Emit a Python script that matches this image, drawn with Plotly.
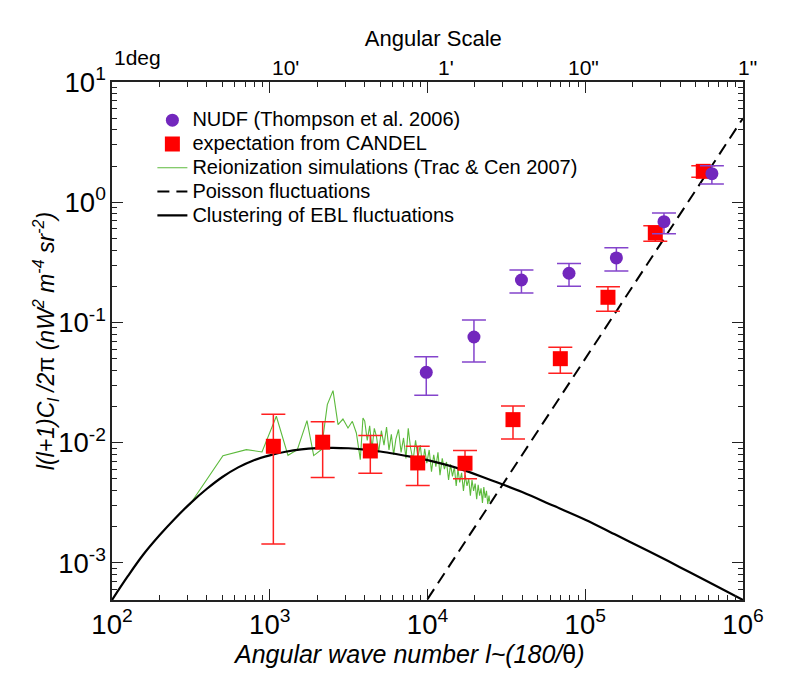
import math
import plotly.graph_objects as go

# ---------------- data ----------------
# NUDF (Thompson et al. 2006)
nudf_l = [9820, 19700, 39400, 78900, 157500, 315500, 635000]
nudf_val = [0.0385, 0.0757, 0.2255, 0.2566, 0.344, 0.689, 1.727]
nudf_hi = [0.052, 0.105, 0.2735, 0.31, 0.419, 0.814, 2.01]
nudf_lo = [0.0248, 0.0469, 0.176, 0.20, 0.268, 0.548, 1.42]

# expectation from CANDEL
candel_l = [1054, 2165, 4340, 8670, 17290, 34830, 69500, 139300, 278000, 560000]
candel_val = [0.00934, 0.0101, 0.00854, 0.00679, 0.00675, 0.01556, 0.050, 0.162, 0.555, 1.807]
candel_hi = [0.01726, 0.01497, 0.01146, 0.00934, 0.0086, 0.0202, 0.0622, 0.1986, 0.638, 2.01]
candel_lo = [0.00144, 0.00513, 0.00557, 0.0044, 0.00502, 0.01074, 0.0378, 0.124, 0.473, 1.61]

# Reionization simulations (Trac & Cen 2007)
reion_l = [311, 505, 711, 893, 1101, 1305, 1496, 1722, 1899, 2123, 2317, 2518, 2709,
           2911, 3133, 3339, 3540, 3750, 3899,
           4000, 4150, 4300, 4450, 4600, 4750, 4900, 5100, 5300, 5500, 5700, 5900,
           6100, 6300, 6550, 6800, 7050, 7300, 7550, 7800, 8100, 8400, 8700, 9000,
           9300, 9600, 9900, 10250, 10600, 10950, 11300, 11650, 12000, 12400, 12800,
           13200, 13600, 14000, 14400, 14800, 15200, 15600, 16000, 16450, 16900,
           17350, 17800, 18250, 18700, 19150, 19600, 20050, 20500, 20950, 21400,
           21850, 22300, 22750, 23200, 23650, 24100, 24550, 24770]
reion_val = [0.00305, 0.00781, 0.00876, 0.00838, 0.0166, 0.00786, 0.00876, 0.01525,
             0.00781, 0.00876, 0.02075, 0.0271, 0.01413, 0.01574, 0.01327, 0.01507,
             0.01205, 0.00723, 0.01607,
             0.01514, 0.01047, 0.01380, 0.00891, 0.01318, 0.01122, 0.00832, 0.01259,
             0.00955, 0.01349, 0.00871, 0.01175, 0.00794, 0.01072, 0.01288, 0.00832,
             0.01096, 0.00741, 0.01318, 0.00912, 0.00708, 0.01047, 0.00759, 0.00955,
             0.00631, 0.00891, 0.00676, 0.00871, 0.00575, 0.00794, 0.00631, 0.00832,
             0.00537, 0.00741, 0.00603, 0.00692, 0.00490, 0.00661, 0.00525, 0.00631,
             0.00437, 0.00603, 0.00468, 0.00562, 0.00398, 0.00537, 0.00437, 0.00501,
             0.00363, 0.00490, 0.00398, 0.00457, 0.00339, 0.00447, 0.00363, 0.00417,
             0.00316, 0.00427, 0.00347, 0.00398, 0.00309, 0.00363, 0.00324]

# Poisson fluctuations
poisson_l = [1e4, 1e6]
poisson_val = [5.0e-4, 5.0]

# Clustering of EBL fluctuations
clust_l = [100, 126, 158, 200, 251, 316, 398, 501, 631, 794, 1000, 1259, 1585, 1995,
           2512, 3162, 3981, 5012, 6310, 7943, 10000, 15849, 25119, 39811, 63096,
           100000, 158489, 251189, 398107, 630957, 1000000]
clust_val = [0.000492, 0.000776, 0.001175, 0.001698, 0.002344, 0.003162, 0.004121,
             0.005188, 0.006237, 0.007161, 0.007852, 0.008414, 0.008810, 0.009016,
             0.009078, 0.008995, 0.008770, 0.008453, 0.008054, 0.007621, 0.007161,
             0.006095, 0.004898, 0.003890, 0.002985, 0.002291, 0.001698, 0.001259,
             0.000923, 0.000676, 0.000492]

# top axis (angular scale) labels
top_tickvals = [1e2, 1e3, 1e4, 1e5, 1e6]
top_ticktext = ["1deg", "10'", "1'", "10\"", "1\""]

FONT = "Liberation Sans, Arial, Helvetica, sans-serif"

fig = go.Figure()

fig.add_trace(go.Scatter(
    x=reion_l, y=reion_val, mode="lines",
    line=dict(color="#5cba3c", width=1.1),
    name='<span style="font-size:20px">Reionization simulations (Trac &amp; Cen 2007)</span>',
    legendrank=3))

fig.add_trace(go.Scatter(
    x=clust_l, y=clust_val, mode="lines", line_shape="spline",
    line=dict(color="black", width=2.2),
    name='<span style="font-size:20px">Clustering of EBL fluctuations</span>',
    legendrank=5))

fig.add_trace(go.Scatter(
    x=poisson_l, y=poisson_val, mode="lines",
    line=dict(color="black", width=2, dash="12px,7px"),
    name='<span style="font-size:20px">Poisson fluctuations</span>', legendrank=4))

fig.add_trace(go.Scatter(
    x=candel_l, y=candel_val, mode="markers",
    marker=dict(symbol="square", size=15, color="#ff0000"),
    error_y=dict(type="data", symmetric=False,
                 array=[h - v for h, v in zip(candel_hi, candel_val)],
                 arrayminus=[v - l for v, l in zip(candel_val, candel_lo)],
                 color="#ff2020", thickness=1.5, width=12),
    name='<span style="font-size:20px">expectation from CANDEL</span>', legendrank=2))

fig.add_trace(go.Scatter(
    x=nudf_l, y=nudf_val, mode="markers",
    marker=dict(symbol="circle", size=13, color="#7227bd"),
    error_y=dict(type="data", symmetric=False,
                 array=[h - v for h, v in zip(nudf_hi, nudf_val)],
                 arrayminus=[v - l for v, l in zip(nudf_val, nudf_lo)],
                 color="#8444cc", thickness=1.5, width=12),
    name='<span style="font-size:20px">NUDF (Thompson et al. 2006)</span>', legendrank=1))

axis_common = dict(
    type="log", showgrid=False, zeroline=False,
    showline=True, linecolor="#222", linewidth=1.5, mirror="ticks",
    ticks="inside", ticklen=11, tickwidth=1.2, tickcolor="#222",
    dtick=1, exponentformat="power",
    tickfont=dict(family=FONT, size=22, color="black"),
    minor=dict(ticks="inside", ticklen=5, tickwidth=1, tickcolor="#222", dtick="D1",
               showgrid=False),
)

M = "\u2212"
fig.update_layout(
    width=795, height=673,
    margin=dict(l=104, r=60, t=74, b=81),
    paper_bgcolor="white", plot_bgcolor="white",
    font=dict(family=FONT, color="black"),
    title=dict(text="Angular Scale", x=0.535, xanchor="center", y=0.955,
               yanchor="middle", yref="container",
               font=dict(family=FONT, size=22, color="black")),
    xaxis=dict(axis_common, range=[2, 6]),
    yaxis=dict(axis_common, range=[-3.308, 1],
               labelalias={"1": "10<sup>0</sup>", "10": "10<sup>1</sup>",
                           "10<sup>" + M + "1</sup>": "10<sup>-1</sup>",
                           "10<sup>" + M + "2</sup>": "10<sup>-2</sup>",
                           "10<sup>" + M + "3</sup>": "10<sup>-3</sup>"}),
    legend=dict(x=0.064, y=0.959, xanchor="left", yanchor="top",
                bgcolor="rgba(0,0,0,0)", font=dict(family=FONT, size=16),
                tracegroupgap=0, itemwidth=30),
    showlegend=True,
)

# axis titles
fig.add_annotation(
    text="<i>Angular wave number l~(180/</i>θ<i>)</i>",
    xref="paper", yref="paper", x=0.4707, y=-0.1042, xanchor="center", yanchor="middle",
    showarrow=False, font=dict(family=FONT, size=25, color="black"))
fig.add_annotation(
    text="<i>l(l+1)C<sub>l</sub> /2</i>π<i> (nW<sup>2</sup> m<sup>-4</sup> sr<sup>-2</sup>)</i>",
    xref="paper", yref="paper", x=-0.106, y=0.5, xanchor="center", yanchor="middle",
    textangle=-90, showarrow=False, font=dict(family=FONT, size=23, color="black"))

# top angular-scale labels ("1deg" sits a little higher than the others)
top_shift = [0, 16, 18, -2, 4]
top_lift = [25, 15, 15, 15, 15]
for v, t, s, h in zip(top_tickvals, top_ticktext, top_shift, top_lift):
    fig.add_annotation(
        text=t, xref="x", yref="paper", x=math.log10(v), y=1,
        xanchor="left" if t == "1deg" else "center", yanchor="middle",
        xshift=s, yshift=h, showarrow=False,
        font=dict(family=FONT, size=21, color="black"))

fig.write_html("out.html")
